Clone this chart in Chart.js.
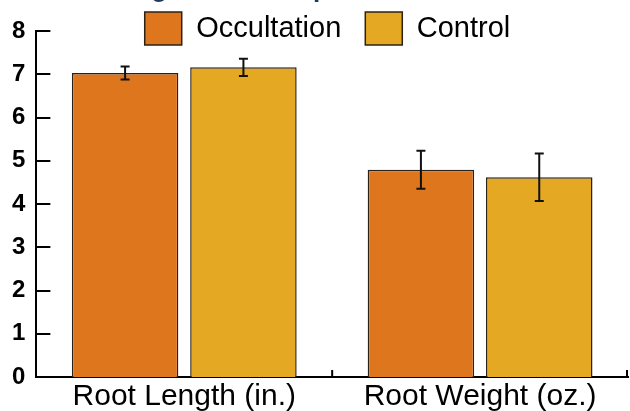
<!DOCTYPE html>
<html>
<head>
<meta charset="utf-8">
<script src="https://cdn.jsdelivr.net/npm/chart.js"></script>
<style>
  html, body { margin: 0; padding: 0; background: #fff; }
  #wrap { width: 630px; height: 411px; }
</style>
</head>
<body>
<div id="wrap"><canvas id="rootChart" width="630" height="411"></canvas></div>
<script>
const categories = ['Root Length (in.)', 'Root Weight (oz.)'];
const occultation = [7.03, 4.79];
const occultationErr = [0.15, 0.44];
const control = [7.16, 4.62];
const controlErr = [0.2, 0.55];
const yTicks = [0, 1, 2, 3, 4, 5, 6, 7, 8];
const titleText = 'Average Root Comparison';

const fontFamily = "'Liberation Sans', Arial, sans-serif";

// error bars drawn from the y scale
const errorBars = {
    id: 'errorBars',
    afterDatasetsDraw(chart) {
        const ctx = chart.ctx;
        const y = chart.scales.y;
        ctx.save();
        ctx.strokeStyle = '#111';
        ctx.lineWidth = 2;
        chart.data.datasets.forEach((ds, di) => {
            const meta = chart.getDatasetMeta(di);
            meta.data.forEach((bar, i) => {
                const top = y.getPixelForValue(ds.data[i] + ds.errors[i]);
                const bot = y.getPixelForValue(ds.data[i] - ds.errors[i]);
                ctx.beginPath();
                ctx.moveTo(bar.x, top); ctx.lineTo(bar.x, bot);
                ctx.moveTo(bar.x - 4.5, top); ctx.lineTo(bar.x + 4.5, top);
                ctx.moveTo(bar.x - 4.5, bot); ctx.lineTo(bar.x + 4.5, bot);
                ctx.stroke();
            });
        });
        ctx.restore();
    }
};

// inward tick marks on both axes + clipped title + legend nudge
const axisMarks = {
    id: 'axisMarks',
    afterLayout(chart) {
        const lg = chart.legend;
        const h = lg.height;
        lg.top = -12;
        lg.bottom = lg.top + h;
        lg.left += 13;
        lg.right += 13;
    },
    afterDraw(chart) {
        const ctx = chart.ctx;
        const area = chart.chartArea;
        const y = chart.scales.y;
        const x = chart.scales.x;
        ctx.save();
        ctx.strokeStyle = '#000';
        ctx.lineWidth = 2;
        ctx.beginPath();
        y.ticks.forEach((t, i) => {
            const py = Math.round(y.getPixelForTick(i));
            ctx.moveTo(area.left, py);
            ctx.lineTo(area.left + 14, py);
        });
        for (let i = 1; i <= categories.length; i++) {
            const px = i < categories.length
                ? (x.getPixelForValue(i - 1) + x.getPixelForValue(i)) / 2
                : area.right - 1;
            ctx.moveTo(px, area.bottom);
            ctx.lineTo(px, area.bottom - 7);
        }
        ctx.stroke();

        ctx.fillStyle = '#1F3A5C';
        ctx.font = 'bold 26px ' + fontFamily;
        ctx.textAlign = 'left';
        ctx.textBaseline = 'alphabetic';
        ctx.fillText(titleText, 80, -3);
        ctx.restore();
    }
};

const config = {
    type: 'bar',
    data: {
        labels: categories,
        datasets: [{
            label: 'Occultation',
            data: occultation,
            errors: occultationErr,
            backgroundColor: '#DE761E',
            borderColor: '#2a2218',
            borderWidth: 1.5
        }, {
            label: 'Control',
            data: control,
            errors: controlErr,
            backgroundColor: '#E5A823',
            borderColor: '#2a2218',
            borderWidth: 1.5
        }]
    },
    options: {
        responsive: false,
        animation: false,
        layout: {
            padding: { top: -36, left: 1, right: 2, bottom: -6 }
        },
        plugins: {
            legend: {
                position: 'top',
                labels: {
                    boxWidth: 37,
                    boxHeight: 33,
                    padding: 24,
                    color: '#000',
                    font: { family: fontFamily, size: 29 }
                }
            },
            tooltip: { enabled: false }
        },
        scales: {
            x: {
                grid: { display: false, drawTicks: false },
                border: { display: true, color: '#000', width: 2 },
                ticks: {
                    color: '#000',
                    padding: 2,
                    font: { family: fontFamily, size: 30 }
                }
            },
            y: {
                min: yTicks[0],
                max: yTicks[yTicks.length - 1],
                grid: { display: false, drawTicks: false },
                border: { display: true, color: '#000', width: 2 },
                afterBuildTicks: axis => {
                    axis.ticks = yTicks.map(v => ({ value: v }));
                },
                ticks: {
                    color: '#000',
                    padding: 11,
                    font: { family: fontFamily, size: 24, weight: 'bold' }
                }
            }
        }
    },
    plugins: [errorBars, axisMarks]
};

const ctx = document.getElementById('rootChart').getContext('2d');
window.rootChartInstance = new Chart(ctx, config);
</script>
</body>
</html>
